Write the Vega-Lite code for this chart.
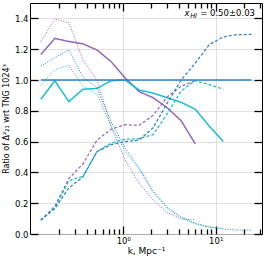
{
  "$schema": "https://vega.github.io/schema/vega-lite/v6.json",
  "width": 232,
  "height": 231,
  "autosize": {"type": "none"},
  "padding": {"left": 30, "top": 3, "right": 4, "bottom": 25},
  "background": "white",
  "config": {
    "view": {"stroke": "black", "strokeWidth": 1},
    "font": "DejaVu Sans",
    "axis": {"labelFont": "DejaVu Sans", "labelFontSize": 8.5, "labelColor": "black", "titleFont": "DejaVu Sans", "titleFontWeight": "normal", "titleColor": "black", "ticks": true, "tickColor": "black", "tickWidth": 1.3, "gridColor": "#d8d8d8", "gridWidth": 0.8, "domain": false}
  },
  "datasets": {
    "lines": [
      {"run":"A","stat":"ratio","k":0.128,"v":1.165},{"run":"A","stat":"ratio","k":0.1816,"v":1.27},{"run":"A","stat":"ratio","k":0.2576,"v":1.25},{"run":"A","stat":"ratio","k":0.3656,"v":1.235},{"run":"A","stat":"ratio","k":0.5188,"v":1.195},{"run":"A","stat":"ratio","k":0.7362,"v":1.12},{"run":"A","stat":"ratio","k":1.0447,"v":1.015},{"run":"A","stat":"ratio","k":1.4825,"v":0.925},{"run":"A","stat":"ratio","k":2.1038,"v":0.885},{"run":"A","stat":"ratio","k":2.9854,"v":0.82},{"run":"A","stat":"ratio","k":4.2364,"v":0.735},{"run":"A","stat":"ratio","k":6.0117,"v":0.585},
      {"run":"B","stat":"ratio","k":0.128,"v":0.875},{"run":"B","stat":"ratio","k":0.1816,"v":0.995},{"run":"B","stat":"ratio","k":0.2576,"v":0.86},{"run":"B","stat":"ratio","k":0.3656,"v":0.94},{"run":"B","stat":"ratio","k":0.5188,"v":0.945},{"run":"B","stat":"ratio","k":0.7362,"v":0.995},{"run":"B","stat":"ratio","k":1.0447,"v":1.0},{"run":"B","stat":"ratio","k":1.4825,"v":0.935},{"run":"B","stat":"ratio","k":2.1038,"v":0.915},{"run":"B","stat":"ratio","k":2.9854,"v":0.885},{"run":"B","stat":"ratio","k":4.2364,"v":0.855},{"run":"B","stat":"ratio","k":6.0117,"v":0.81},{"run":"B","stat":"ratio","k":8.531,"v":0.7},{"run":"B","stat":"ratio","k":12.106,"v":0.6},
      {"run":"A","stat":"cross","k":0.128,"v":0.09},{"run":"A","stat":"cross","k":0.1816,"v":0.18},{"run":"A","stat":"cross","k":0.2576,"v":0.36},{"run":"A","stat":"cross","k":0.3656,"v":0.455},{"run":"A","stat":"cross","k":0.5188,"v":0.61},{"run":"A","stat":"cross","k":0.7362,"v":0.68},{"run":"A","stat":"cross","k":1.0447,"v":0.71},{"run":"A","stat":"cross","k":1.4825,"v":0.705},{"run":"A","stat":"cross","k":2.1038,"v":0.77},{"run":"A","stat":"cross","k":2.9854,"v":0.89},{"run":"A","stat":"cross","k":4.2364,"v":0.96},{"run":"A","stat":"cross","k":6.0117,"v":0.995},
      {"run":"B","stat":"cross","k":0.128,"v":0.09},{"run":"B","stat":"cross","k":0.1816,"v":0.17},{"run":"B","stat":"cross","k":0.2576,"v":0.345},{"run":"B","stat":"cross","k":0.3656,"v":0.375},{"run":"B","stat":"cross","k":0.5188,"v":0.535},{"run":"B","stat":"cross","k":0.7362,"v":0.59},{"run":"B","stat":"cross","k":1.0447,"v":0.615},{"run":"B","stat":"cross","k":1.4825,"v":0.62},{"run":"B","stat":"cross","k":2.1038,"v":0.645},{"run":"B","stat":"cross","k":2.9854,"v":0.78},{"run":"B","stat":"cross","k":4.2364,"v":0.93},{"run":"B","stat":"cross","k":6.0117,"v":0.995},{"run":"B","stat":"cross","k":8.531,"v":0.97},{"run":"B","stat":"cross","k":12.106,"v":0.94},
      {"run":"C","stat":"cross","k":0.128,"v":0.09},{"run":"C","stat":"cross","k":0.1816,"v":0.165},{"run":"C","stat":"cross","k":0.2576,"v":0.3},{"run":"C","stat":"cross","k":0.3656,"v":0.37},{"run":"C","stat":"cross","k":0.5188,"v":0.535},{"run":"C","stat":"cross","k":0.7362,"v":0.58},{"run":"C","stat":"cross","k":1.0447,"v":0.6},{"run":"C","stat":"cross","k":1.4825,"v":0.61},{"run":"C","stat":"cross","k":2.1038,"v":0.69},{"run":"C","stat":"cross","k":2.9854,"v":0.85},{"run":"C","stat":"cross","k":4.2364,"v":1.0},{"run":"C","stat":"cross","k":6.0117,"v":1.11},{"run":"C","stat":"cross","k":8.531,"v":1.23},{"run":"C","stat":"cross","k":12.106,"v":1.28},{"run":"C","stat":"cross","k":17.179,"v":1.295},{"run":"C","stat":"cross","k":24.378,"v":1.296},
      {"run":"A","stat":"auto","k":0.128,"v":1.25},{"run":"A","stat":"auto","k":0.1816,"v":1.395},{"run":"A","stat":"auto","k":0.2576,"v":1.372},{"run":"A","stat":"auto","k":0.3656,"v":1.13},{"run":"A","stat":"auto","k":0.5188,"v":1.0},{"run":"A","stat":"auto","k":0.7362,"v":0.7},{"run":"A","stat":"auto","k":1.0447,"v":0.48},{"run":"A","stat":"auto","k":1.4825,"v":0.33},{"run":"A","stat":"auto","k":2.1038,"v":0.22},{"run":"A","stat":"auto","k":2.9854,"v":0.14},{"run":"A","stat":"auto","k":4.2364,"v":0.097},{"run":"A","stat":"auto","k":6.0117,"v":0.093},
      {"run":"B","stat":"auto","k":0.128,"v":0.965},{"run":"B","stat":"auto","k":0.1816,"v":1.068},{"run":"B","stat":"auto","k":0.2576,"v":1.094},{"run":"B","stat":"auto","k":0.3656,"v":0.96},{"run":"B","stat":"auto","k":0.5188,"v":0.91},{"run":"B","stat":"auto","k":0.7362,"v":0.7},{"run":"B","stat":"auto","k":1.0447,"v":0.54},{"run":"B","stat":"auto","k":1.4825,"v":0.42},{"run":"B","stat":"auto","k":2.1038,"v":0.27},{"run":"B","stat":"auto","k":2.9854,"v":0.165},{"run":"B","stat":"auto","k":4.2364,"v":0.105},{"run":"B","stat":"auto","k":6.0117,"v":0.065},{"run":"B","stat":"auto","k":8.531,"v":0.045},{"run":"B","stat":"auto","k":12.106,"v":0.037},
      {"run":"C","stat":"auto","k":0.128,"v":1.09},{"run":"C","stat":"auto","k":0.1816,"v":1.145},{"run":"C","stat":"auto","k":0.2576,"v":1.195},{"run":"C","stat":"auto","k":0.3656,"v":1.02},{"run":"C","stat":"auto","k":0.5188,"v":0.95},{"run":"C","stat":"auto","k":0.7362,"v":0.73},{"run":"C","stat":"auto","k":1.0447,"v":0.56},{"run":"C","stat":"auto","k":1.4825,"v":0.43},{"run":"C","stat":"auto","k":2.1038,"v":0.28},{"run":"C","stat":"auto","k":2.9854,"v":0.175},{"run":"C","stat":"auto","k":4.2364,"v":0.11},{"run":"C","stat":"auto","k":6.0117,"v":0.07},{"run":"C","stat":"auto","k":8.531,"v":0.045},{"run":"C","stat":"auto","k":12.106,"v":0.032},{"run":"C","stat":"auto","k":17.179,"v":0.026},{"run":"C","stat":"auto","k":24.378,"v":0.025},
      {"run":"C","stat":"ratio","k":0.128,"v":1.0},{"run":"C","stat":"ratio","k":0.1816,"v":1.0},{"run":"C","stat":"ratio","k":0.2576,"v":1.0},{"run":"C","stat":"ratio","k":0.3656,"v":1.0},{"run":"C","stat":"ratio","k":0.5188,"v":1.0},{"run":"C","stat":"ratio","k":0.7362,"v":1.0},{"run":"C","stat":"ratio","k":1.0447,"v":1.0},{"run":"C","stat":"ratio","k":1.4825,"v":1.0},{"run":"C","stat":"ratio","k":2.1038,"v":1.0},{"run":"C","stat":"ratio","k":2.9854,"v":1.0},{"run":"C","stat":"ratio","k":4.2364,"v":1.0},{"run":"C","stat":"ratio","k":6.0117,"v":1.0},{"run":"C","stat":"ratio","k":8.531,"v":1.0},{"run":"C","stat":"ratio","k":12.106,"v":1.0},{"run":"C","stat":"ratio","k":17.179,"v":1.0},{"run":"C","stat":"ratio","k":24.378,"v":1.0}
    ],
    "note": [{"label": "x_HI"}]
  },
  "layer": [
    {
      "data": {"name": "lines"},
      "mark": {"type": "line", "clip": true},
      "encoding": {
        "x": {"field": "k", "type": "quantitative", "scale": {"type": "log", "domain": [0.0978, 31.7], "nice": false},
          "axis": {"orient": "bottom", "values": [0.2,0.3,0.4,0.5,0.6,0.7,0.8,0.9,1,2,3,4,5,6,7,8,9,10,20,30],
            "labelExpr": "datum.value == 1 ? '10⁰' : (datum.value == 10 ? '10¹' : '')",
            "tickSize": {"condition": {"test": "datum.value == 1 || datum.value == 10", "value": -8}, "value": -5},
            "labelPadding": 10,
            "grid": true,
            "gridOpacity": {"condition": {"test": "datum.value == 1 || datum.value == 10", "value": 1}, "value": 0},
            "title": "k, Mpc⁻¹", "titleFontSize": 9, "titlePadding": 2, "labelFlush": false}},
        "y": {"field": "v", "type": "quantitative", "scale": {"domain": [0, 1.5], "nice": false},
          "axis": {"orient": "left", "values": [0,0.2,0.4,0.6,0.8,1.0,1.2,1.4], "format": ".1f", "tickSize": -8, "labelPadding": 10, "grid": true,
            "title": "Ratio of Δ²₂₁ wrt TNG 1024³", "titleFontSize": 8, "titlePadding": 4}},
        "color": {"field": "run", "type": "nominal", "scale": {"domain": ["A","B","C"], "range": ["#9467bd","#17becf","#2a84c4"]}, "legend": null},
        "strokeDash": {"field": "stat", "type": "nominal", "scale": {"domain": ["ratio","cross","auto"], "range": [[1,0],[3,2],[1,1.5]]}, "legend": null},
        "strokeWidth": {"field": "stat", "type": "ordinal", "scale": {"domain": ["ratio","cross","auto"], "range": [1.5,1,1]}, "legend": null}
      }
    },
    {
      "data": {"name": "note"},
      "mark": {"type": "text", "align": "right", "baseline": "alphabetic", "fontSize": 8.5, "font": "DejaVu Sans", "color": "black", "text": "= 0.50±0.03"},
      "encoding": {
        "x": {"datum": 26.6, "type": "quantitative", "scale": {"type": "log", "domain": [0.0978, 31.7], "nice": false},
          "axis": {"orient": "top", "values": [0.2,0.3,0.4,0.5,0.6,0.7,0.8,0.9,1,2,3,4,5,6,7,8,9,10,20,30], "labels": false, "grid": false, "title": null,
            "tickSize": {"condition": {"test": "datum.value == 1 || datum.value == 10", "value": -8}, "value": -5}}},
        "y": {"datum": 1.415, "type": "quantitative", "scale": {"domain": [0, 1.5], "nice": false},
          "axis": {"orient": "right", "values": [0,0.2,0.4,0.6,0.8,1.0,1.2,1.4], "labels": false, "grid": false, "title": null, "tickSize": -8}}
      }
    },
    {
      "data": {"name": "note"},
      "mark": {"type": "text", "align": "right", "baseline": "alphabetic", "fontSize": 6.5, "font": "DejaVu Sans", "fontStyle": "italic", "color": "black", "text": "HI"},
      "encoding": {
        "x": {"datum": 6.28, "type": "quantitative", "axis": null},
        "y": {"datum": 1.401, "type": "quantitative", "axis": null}
      }
    },
    {
      "data": {"name": "note"},
      "mark": {"type": "text", "align": "right", "baseline": "alphabetic", "fontSize": 8.5, "font": "DejaVu Sans", "fontStyle": "italic", "color": "black", "text": "x"},
      "encoding": {
        "x": {"datum": 5.21, "type": "quantitative", "axis": null},
        "y": {"datum": 1.415, "type": "quantitative", "axis": null}
      }
    }
  ],
  "resolve": {"axis": {"x": "independent", "y": "independent"}}
}
